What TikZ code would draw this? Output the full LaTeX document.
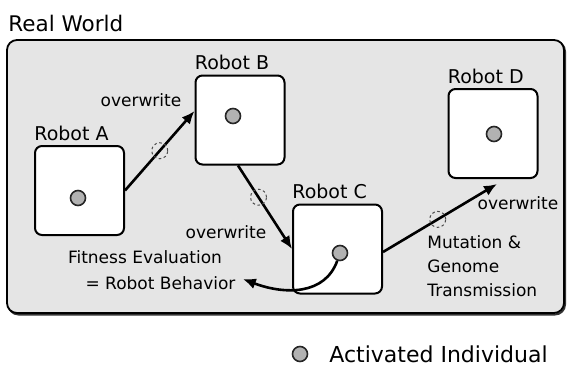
\documentclass[tikz,border=0pt]{standalone}
\usepackage{fontspec}
\setmainfont{DejaVu Sans}
\usetikzlibrary{positioning,arrows.meta}
\begin{document}
\begin{tikzpicture}[x=0.5pt,y=-0.5pt,
        robot/.style={draw,fill=white,rounded corners=3.5pt,line width=1pt,minimum size=44.5pt,inner sep=0},
        robotname/.style={inner sep=0,font=\fontsize{9.5}{11}\selectfont},
        ind/.style={circle,draw=black!85,fill=black!30,line width=0.8pt,minimum size=7.5pt,inner sep=0},
        note/.style={inner sep=0,font=\fontsize{8.5}{12}\selectfont},
        genome/.style={circle,draw=black!70,dash pattern=on 1.3pt off 1.3pt,line width=0.5pt,minimum size=8pt,inner sep=0},
        copy/.style={-{Latex[length=6.5pt,width=5.5pt]},line width=1.3pt}]
    \useasboundingbox (0,0) rectangle (568,365);
    \node[anchor=west,inner sep=0,font=\fontsize{10.75}{12}\selectfont] (world) at (8,23) {Real World};
    \draw[black!80,rounded corners=5pt,line width=1pt] (8.5,41.5) rectangle (565,314.5);
    \draw[fill=black!10,rounded corners=5pt,line width=0.9pt] (7,40) rectangle (564,313);
    % robots and their names
    \node[robot] (ra) at (79.5,190.5) {};
    \node[robot] (rb) at (240,120) {};
    \node[robot] (rc) at (337.5,249) {};
    \node[robot] (rd) at (493,133.5) {};
    \foreach \r/\t in {ra/A,rb/B,rc/C,rd/D}
        \node[robotname,above right=2pt and 0pt of \r.north west] (name\t) {Robot \t};
    % activated individuals
    \node[ind] (ia) at (78,198) {};
    \node[ind] (ib) at (233,116) {};
    \node[ind] (ic) at (340,253) {};
    \node[ind] (id) at (494,134) {};
    % labels
    \node[note] (ow1) at (141,100) {overwrite};
    \node[note] (ow2) at (226,232) {overwrite};
    \node[note] (ow3) at (518,203) {overwrite};
    \node[note] (fit) at (145,257) {Fitness Evaluation};
    \node[note] (behav) at (160.5,283) {= Robot Behavior};
    \node[note,anchor=west,align=left] (mut) at (427,266) {Mutation \&\\Genome\\Transmission};
    % genome copies
    \draw[copy] (ra.east) -- ([yshift=4.5pt]rb.west) node[genome,pos=0.5] {};
    \draw[copy] ([xshift=-1pt]rb.south) -- (rc.west) node[genome,pos=0.38] {};
    \draw[copy] ([yshift=-1.5pt]rc.east) -- ([xshift=2pt,yshift=-2.5pt]rd.south) node[genome,pos=0.48] {};
    \draw[copy] (ic) .. controls (325,295) and (285,295) .. ([xshift=3.5pt,yshift=2pt]behav.east);
    % legend
    \node[ind] (key) at (300,354) {};
    \node[anchor=west,inner sep=0,font=\fontsize{11}{13}\selectfont] (keytext) at (329,354) {Activated Individual};
\end{tikzpicture}
\end{document}
